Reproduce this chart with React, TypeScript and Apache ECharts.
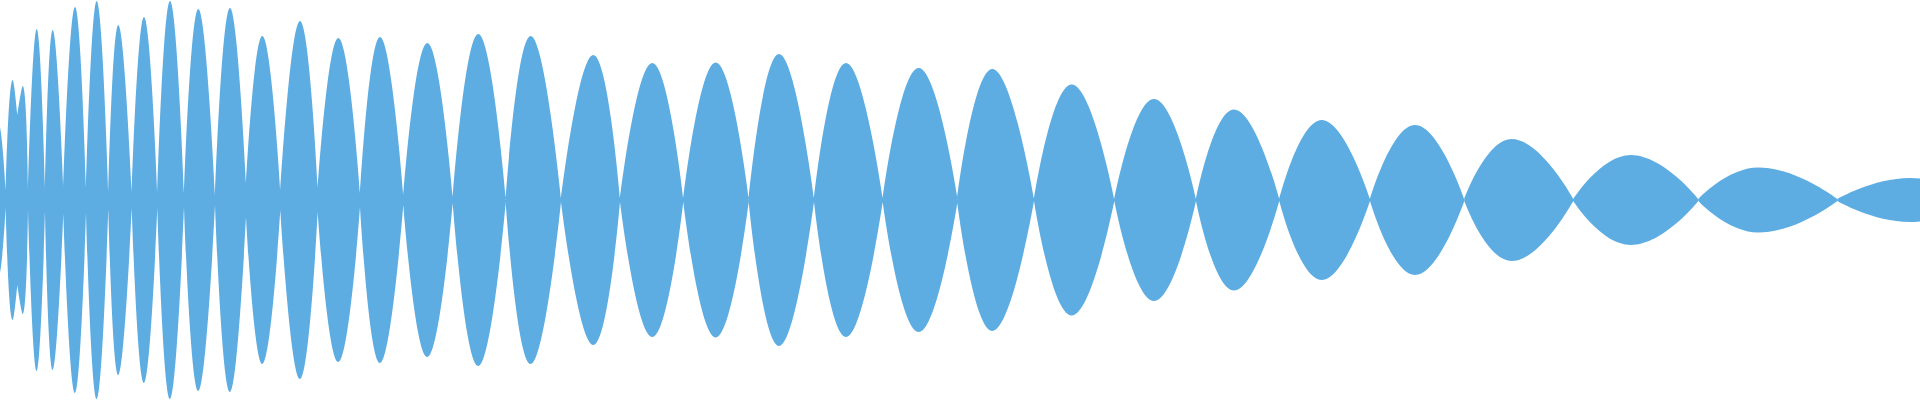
import React, { useEffect, useRef } from "react";
import * as echarts from "echarts";

// Envelope of a decaying, slowing oscillation (time on x, amplitude on y)
// Zero-crossing (node) positions and the residual amplitude left at each node
const crossX = [-6, 5.7, 17.3, 28, 45, 63.3, 86, 108.3, 131.7, 157.3, 184, 215, 246, 280.3, 317.7, 360, 403.3, 452.7, 505.7, 561, 620, 683.3, 748.7, 814, 882.7, 957.3, 1034, 1114.3, 1196, 1279.3, 1370, 1464.3, 1573.3, 1698.3, 1837.3, 1930];
const crossAmp = [8, 8, 85, 10, 11, 14, 13, 9, 8, 8, 7, 5, 17, 10, 12, 7, 5, 3, 3, 2, 2, 2, 2, 2, 2, 3, 1, 1, 1, 1, 1, 1, 1, 1, 1, 20];
// Lobe crests (one between each pair of nodes)
const peakX = [-1, 12.7, 22.7, 36.7, 52.7, 75, 96.7, 118.3, 144, 170, 198.3, 230, 262.3, 300, 338.3, 380, 427.3, 478.3, 530.7, 593.3, 652.3, 715.7, 779, 846, 918.7, 992.3, 1071.7, 1154, 1234, 1321.7, 1415, 1511.7, 1630.7, 1758.3, 1910];
const peakAmp = [75, 120, 114, 171, 170, 193, 199, 175, 183, 199, 191, 192, 164, 179, 162, 163, 157, 166, 164, 145, 137, 137.5, 146, 137, 132, 131, 115.5, 101, 90.5, 80, 75, 61, 45, 32.5, 22];

const TIME_RANGE = [0, 1920];
const AMP_RANGE = [-200, 200];
const COLOR = "#5DADE2";

function buildEnvelope(sign: number) {
  const pts: any[] = [];
  for (let i = 0; i < peakX.length; i++) {
    if (i > 0) pts.push([crossX[i], "-"]);
    pts.push([crossX[i], sign * crossAmp[i]]);
    pts.push([peakX[i], sign * peakAmp[i]]);
    pts.push([crossX[i + 1], sign * crossAmp[i + 1]]);
  }
  return pts;
}

export default function App() {
  const ref = useRef<HTMLDivElement>(null);
  useEffect(() => {
    if (!ref.current) return;
    const chart = echarts.init(ref.current, null, { renderer: "svg" });
    const seriesBase = {
      type: "line",
      smooth: 0.5,
      showSymbol: false,
      symbol: "none",
      connectNulls: false,
      silent: true,
      lineStyle: { width: 0, opacity: 0 },
      itemStyle: { color: COLOR },
      areaStyle: { color: COLOR, opacity: 1 },
    };
    chart.setOption({
      animation: false,
      backgroundColor: "#ffffff",
      grid: { left: 0, right: 0, top: 0, bottom: 0, containLabel: false },
      xAxis: { type: "value", min: TIME_RANGE[0], max: TIME_RANGE[1], show: false },
      yAxis: { type: "value", min: AMP_RANGE[0], max: AMP_RANGE[1], show: false },
      series: [
        { ...seriesBase, name: "upper", data: buildEnvelope(1) },
        { ...seriesBase, name: "lower", data: buildEnvelope(-1) },
      ],
    });
    return () => chart.dispose();
  }, []);
  return (
    <div
      ref={ref}
      style={{ position: "fixed", left: 0, top: 0, width: 1920, height: 400 }}
    />
  );
}
